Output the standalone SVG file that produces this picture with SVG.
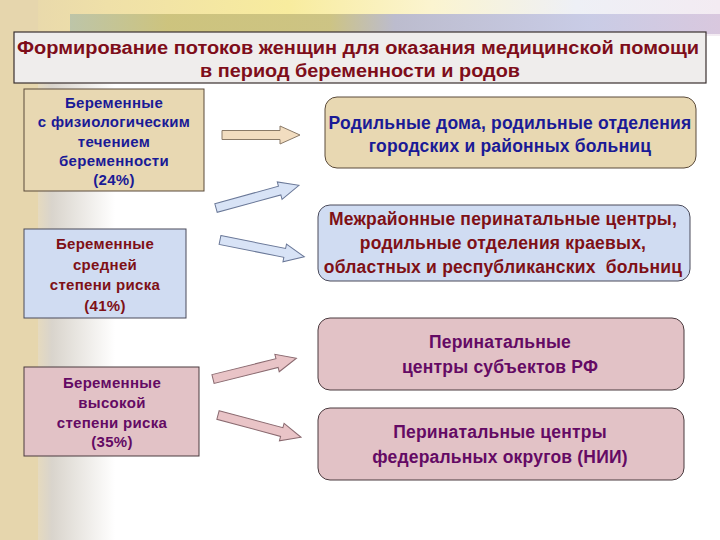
<svg xmlns="http://www.w3.org/2000/svg" width="720" height="540" viewBox="0 0 720 540">
<defs>
<linearGradient id="bgL" x1="0" y1="0" x2="1" y2="0">
<stop offset="0" stop-color="#e6d6ad"/>
<stop offset="0.3" stop-color="#e8dbbb"/>
<stop offset="0.45" stop-color="#d9d4cc"/>
<stop offset="1" stop-color="#ffffff"/>
</linearGradient>
<linearGradient id="bannerTop" x1="0" y1="0" x2="1" y2="0">
<stop offset="0" stop-color="#e6d6ad"/>
<stop offset="0.15" stop-color="#efe0a8"/>
<stop offset="0.4" stop-color="#f8ec9e"/>
<stop offset="0.6" stop-color="#fbf4d0"/>
<stop offset="0.8" stop-color="#eef0f6"/>
<stop offset="1" stop-color="#f3ebf2"/>
</linearGradient>
<linearGradient id="bannerMid" x1="0" y1="0" x2="1" y2="0">
<stop offset="0" stop-color="#b8c2a8"/>
<stop offset="0.15" stop-color="#c9c07a"/>
<stop offset="0.4" stop-color="#c8bf80"/>
<stop offset="0.5" stop-color="#b5b6cf"/>
<stop offset="0.8" stop-color="#c5c8e4"/>
<stop offset="1" stop-color="#d6c4dc"/>
</linearGradient>
<path id="arrD" d="M0,-4.5 L66,-4.5 L66,-9 L86,0 L66,9 L66,4.5 L0,4.5 Z"/>
<path id="arrH" d="M0,-4.5 L58,-4.5 L58,-9 L78,0 L58,9 L58,4.5 L0,4.5 Z"/>
</defs>
<style>
.t{font-family:"Liberation Sans",Arial,sans-serif;font-weight:bold;text-anchor:middle;white-space:pre}
.title{font-size:18px;fill:#7e0d1a}
.ls{font-size:15px;letter-spacing:0.3px}
.rs{font-size:17.5px;letter-spacing:0.2px}
.blue{fill:#1a1a96}
.red{fill:#7e1016}
.pur{fill:#640a64}
.beige{fill:#e8d8b2;stroke:#5a4a3a;stroke-width:1}
.lblue{fill:#d0dcf2;stroke:#4a4a5a;stroke-width:1}
.pink{fill:#e2c2c6;stroke:#4a3a3e;stroke-width:1}
.aB{fill:#f2ddc0;stroke:#8a7a68;stroke-width:1}
.aL{fill:#d8e3f6;stroke:#6a7898;stroke-width:1}
.aP{fill:#e9c4c7;stroke:#8a6a70;stroke-width:1}
</style>
<rect x="0" y="0" width="720" height="540" fill="#ffffff"/>
<rect x="0" y="0" width="115" height="540" fill="url(#bgL)"/>
<rect x="0" y="0" width="720" height="36" fill="url(#bannerTop)"/>
<rect x="70" y="14" width="650" height="20" fill="url(#bannerMid)" opacity="0.9"/>
<rect x="0" y="0" width="38" height="540" fill="#e6d6ad"/>

<g id="title">
<rect x="14" y="32" width="692" height="51" fill="#efedec" stroke="#3a3030" stroke-width="1.2"/>
<text class="t title" x="358" y="54" textLength="682" lengthAdjust="spacingAndGlyphs">Формирование потоков женщин для оказания медицинской помощи</text>
<text class="t title" x="360" y="77" textLength="320" lengthAdjust="spacingAndGlyphs">в период беременности и родов</text>
</g>

<g id="n-physio">
<rect class="beige" x="24" y="89" width="180" height="102"/>
<text class="t ls blue" x="114" y="108">Беременные</text>
<text class="t ls blue" x="114" y="127">с физиологическим</text>
<text class="t ls blue" x="114" y="147">течением</text>
<text class="t ls blue" x="114" y="166">беременности</text>
<text class="t ls blue" x="114" y="185">(24%)</text>
</g>

<g id="n-mid">
<rect class="lblue" x="24" y="229" width="162" height="89"/>
<text class="t ls red" x="105" y="249">Беременные</text>
<text class="t ls red" x="105" y="270">средней</text>
<text class="t ls red" x="105" y="290">степени риска</text>
<text class="t ls red" x="105" y="311">(41%)</text>
</g>

<g id="n-high">
<rect class="pink" x="24" y="367" width="175" height="89"/>
<text class="t ls pur" x="112" y="388">Беременные</text>
<text class="t ls pur" x="112" y="408">высокой</text>
<text class="t ls pur" x="112" y="428">степени риска</text>
<text class="t ls pur" x="112" y="447">(35%)</text>
</g>

<g id="n-maternity">
<rect class="beige" x="325" y="97" width="371" height="71" rx="12"/>
<text class="t rs blue" x="510" y="129">Родильные дома, родильные отделения</text>
<text class="t rs blue" x="510" y="152">городских и районных больниц</text>
</g>

<g id="n-interdistrict">
<rect class="lblue" x="318" y="205" width="372" height="76" rx="12"/>
<text class="t rs red" x="503" y="225">Межрайонные перинатальные центры,</text>
<text class="t rs red" x="503" y="249">родильные отделения краевых,</text>
<text class="t rs red" x="503" y="273">областных и республиканских  больниц</text>
</g>

<g id="n-subjects">
<rect class="pink" x="318" y="318" width="366" height="72" rx="12"/>
<text class="t rs pur" x="500" y="348">Перинатальные</text>
<text class="t rs pur" x="500" y="373">центры субъектов РФ</text>
</g>

<g id="n-federal">
<rect class="pink" x="318" y="408" width="366" height="72" rx="12"/>
<text class="t rs pur" x="500" y="438">Перинатальные центры</text>
<text class="t rs pur" x="500" y="463">федеральных округов (НИИ)</text>
</g>

<g id="connectors">
<use href="#arrH" class="aB" transform="translate(222,135)"/>
<use href="#arrD" class="aL" transform="translate(216,208) rotate(-15.3)"/>
<use href="#arrD" class="aL" transform="translate(220,240) rotate(11.3)"/>
<use href="#arrD" class="aP" transform="translate(213,379) rotate(-14)"/>
<use href="#arrD" class="aP" transform="translate(218,415) rotate(15)"/>
</g>
</svg>
